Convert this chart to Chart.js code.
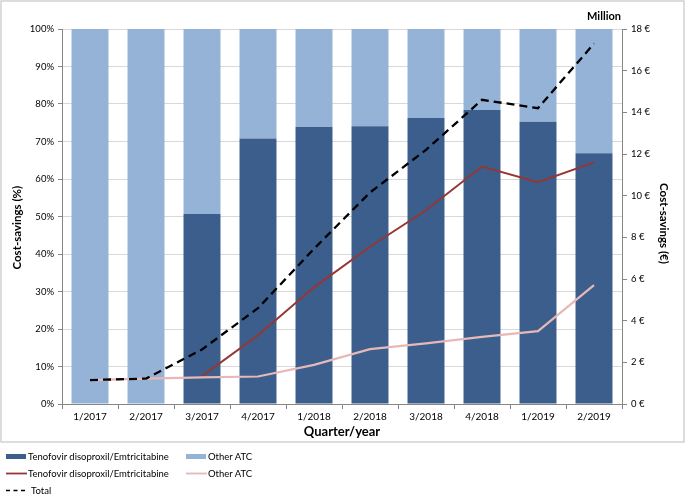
<!DOCTYPE html>
<html><head><meta charset="utf-8">
<script src="https://cdn.jsdelivr.net/npm/chart.js@4"></script>
<style>
body{margin:0;background:#fff;width:685px;height:494px;overflow:hidden;font-family:Lato,sans-serif;position:relative;}
#wrap{position:absolute;left:0;top:0;width:685px;height:444px;}
#legend{position:absolute;left:0;top:0;width:685px;height:494px;pointer-events:none;}
.item{position:absolute;height:12px;display:flex;align-items:center;font-size:9.5px;color:#000;white-space:nowrap;}
.item svg{margin-right:1px;}
</style></head><body>
<div id="wrap"><canvas id="c" width="685" height="444"></canvas></div>
<div id="legend"></div>
<script>
const categories = ['1/2017','2/2017','3/2017','4/2017','1/2018','2/2018','3/2018','4/2018','1/2019','2/2019'];
const tdfPct   = [0, 0, 50.7, 70.8, 73.9, 74.1, 76.3, 78.4, 75.3, 66.9];
const otherPct = [100, 100, 49.3, 29.2, 26.1, 25.9, 23.7, 21.6, 24.7, 33.1];
const tdfEur   = [null, null, 1.34, 3.3, 5.6, 7.55, 9.3, 11.4, 10.65, 11.6];
const otherEur = [1.15, 1.22, 1.28, 1.32, 1.88, 2.63, 2.91, 3.22, 3.5, 5.71];
const totalEur = [1.15, 1.22, 2.62, 4.6, 7.45, 10.15, 12.2, 14.6, 14.2, 17.3];
const pctTicks = {min:0, max:100, step:10};
const eurTicks = {min:0, max:18, step:2};

const FONT = 'Lato';
const C_DARK='#3B5E8C', C_LIGHT='#95B3D7', C_RED='#953735', C_PINK='#E6B9B8';

const framePlugin = {
  id:'frame',
  beforeDraw(chart){
    const ctx = chart.ctx;
    ctx.save();
    ctx.fillStyle='#fff';
    ctx.fillRect(0,0,chart.width,chart.height);
    ctx.strokeStyle='#C6C6C6';
    ctx.lineWidth=1.2;
    ctx.strokeRect(1,1,683,441);
    ctx.restore();
  },
  afterDraw(chart){
    const ctx = chart.ctx;
    const a = chart.chartArea;
    ctx.save();
    ctx.fillStyle='#000';
    ctx.font='bold 11px '+FONT;
    ctx.textAlign='center';
    ctx.textBaseline='middle';
    ctx.fillText('Million', a.right-18, 16);
    ctx.restore();
  }
};

const datasets = [
  {type:'bar', label:'Tenofovir disoproxil/Emtricitabine', data:tdfPct, backgroundColor:C_DARK, yAxisID:'y', order:3, barPercentage:0.66, categoryPercentage:1},
  {type:'bar', label:'Other ATC', data:otherPct, backgroundColor:C_LIGHT, yAxisID:'y', order:3, barPercentage:0.66, categoryPercentage:1},
  {type:'line', label:'Tenofovir disoproxil/Emtricitabine', data:tdfEur, borderColor:C_RED, backgroundColor:C_RED, borderWidth:2, pointRadius:0, yAxisID:'y1', order:2, tension:0, fill:false},
  {type:'line', label:'Other ATC', data:otherEur, borderColor:C_PINK, backgroundColor:C_PINK, borderWidth:2.2, pointRadius:0, yAxisID:'y1', order:1, tension:0, fill:false},
  {type:'line', label:'Total', data:totalEur, borderColor:'#000', backgroundColor:'#000', borderWidth:2.3, borderDash:[8,5], pointRadius:0, yAxisID:'y1', order:0, tension:0, fill:false}
];

new Chart(document.getElementById('c'), {
  type:'bar',
  data:{labels:categories, datasets},
  options:{
    responsive:false, animation:false,
    layout:{padding:{top:29,left:0,right:0,bottom:0}},
    plugins:{legend:{display:false}, tooltip:{enabled:false}},
    scales:{
      x:{stacked:true,
         grid:{offset:true, drawOnChartArea:false, tickLength:5, color:'#868686'},
         border:{color:'#868686'},
         ticks:{font:{family:FONT,size:10}, color:'#000', padding:2, maxRotation:0, autoSkip:false},
         title:{display:true, text:'Quarter/year', font:{family:FONT,size:13,weight:'bold'}, color:'#000', padding:{top:0,bottom:4}},
         afterFit(s){s.height=40;}},
      y:{stacked:true, position:'left', min:pctTicks.min, max:pctTicks.max,
         ticks:{stepSize:pctTicks.step, callback:v=>v+'%', font:{family:FONT,size:9.5}, color:'#000', padding:4},
         grid:{color:'#D9D9D9', tickColor:'#868686', tickLength:4},
         border:{color:'#868686'},
         title:{display:true, text:'Cost-savings (%)\u00a0\u00a0\u00a0\u00a0\u00a0\u00a0\u00a0\u00a0', font:{family:FONT,size:11.5,weight:'bold'}, color:'#000', padding:{top:10,bottom:0}},
         afterFit(s){s.width=62;}},
      y1:{position:'right', min:eurTicks.min, max:eurTicks.max,
         ticks:{stepSize:eurTicks.step, callback:v=>v+' €', font:{family:FONT,size:9.5}, color:'#000', padding:4},
         grid:{drawOnChartArea:false, color:'#868686', tickLength:5},
         border:{color:'#868686'},
         title:{display:true, text:'\u00a0\u00a0\u00a0\u00a0\u00a0Cost-savings (€)', font:{family:FONT,size:11.5,weight:'bold'}, color:'#000', padding:{top:14,bottom:0}},
         afterFit(s){s.width=63;}}
    }
  },
  plugins:[framePlugin]
});

// HTML legend built from datasets
const legendPos = [
  {left:6, top:450}, {left:186, top:450},
  {left:6, top:467}, {left:186, top:467},
  {left:6, top:484}
];
const lg = document.getElementById('legend');
datasets.forEach((d,i)=>{
  const el = document.createElement('div');
  el.className='item';
  el.style.left=legendPos[i].left+'px';
  el.style.top=legendPos[i].top+'px';
  let sw;
  if(d.type==='bar'){
    sw = `<svg width="21" height="12"><rect x="0" y="4" width="20" height="5" fill="${d.backgroundColor}"/></svg>`;
  } else if(d.borderDash){
    sw = `<svg width="24" height="12"><line x1="0" y1="6.5" x2="21" y2="6.5" stroke="${d.borderColor}" stroke-width="1.6" stroke-dasharray="4,3.5"/></svg>`;
  } else {
    sw = `<svg width="21" height="12"><line x1="0" y1="6.5" x2="21" y2="6.5" stroke="${d.borderColor}" stroke-width="1.8"/></svg>`;
  }
  el.innerHTML = sw + '<span>'+d.label+'</span>';
  lg.appendChild(el);
});
</script>
</body></html>
